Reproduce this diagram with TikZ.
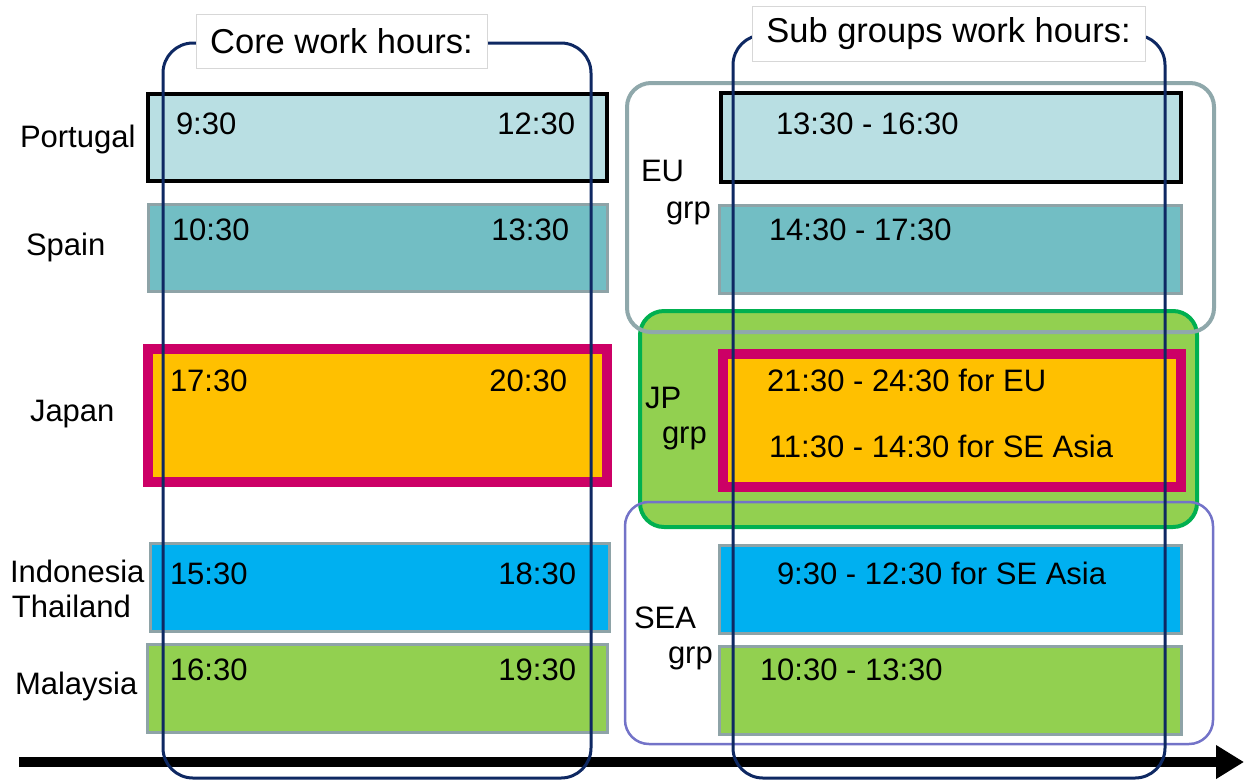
\documentclass[tikz,border=0pt]{standalone}
\usepackage{fontspec}
\setmainfont{Liberation Sans}
\usetikzlibrary{arrows.meta}
\definecolor{navy}{RGB}{14,40,98}
\definecolor{lteal}{RGB}{185,223,227}
\definecolor{teal}{RGB}{114,190,196}
\definecolor{jporange}{RGB}{255,192,0}
\definecolor{magent}{RGB}{204,0,102}
\definecolor{skyb}{RGB}{0,176,240}
\definecolor{lgreen}{RGB}{146,208,80}
\definecolor{dgreen}{RGB}{0,176,80}
\definecolor{grayb}{RGB}{142,163,167}
\definecolor{eub}{RGB}{143,168,171}
\definecolor{seab}{RGB}{115,115,200}
\definecolor{ttlb}{RGB}{215,215,215}
\begin{document}
\begin{tikzpicture}[x=1pt,y=-1pt,
  every node/.style={inner sep=0pt,outer sep=0pt},
  txt/.style={font=\fontsize{31}{36}\selectfont,anchor=base west},
  txtr/.style={font=\fontsize{31}{36}\selectfont,anchor=base east},
  ttl/.style={font=\fontsize{34.5}{40}\selectfont,fill=white,draw=ttlb,line width=0.8pt,anchor=north west},
  bar/.style={anchor=north west,draw=grayb,line width=3pt},
  blackbar/.style={anchor=north west,draw=black,line width=3.5pt},
  jpbar/.style={anchor=north west,draw=magent,line width=10pt,fill=jporange},
  bracket/.style={anchor=north west,draw=navy,line width=3pt,rounded corners=30pt},
  grp/.style={anchor=north west,rounded corners=24pt}]
\useasboundingbox (0,0) rectangle (1244,780);

% time axis
\coordinate (ax0) at (19,762);
\coordinate (ax1) at (1244,762);
\draw[line width=10pt,-{Triangle[length=28pt,width=32pt]}] (ax0) -- (ax1);

% left bars
\node[blackbar,fill=lteal,minimum width=459,minimum height=87] (pt) at (148,94) {};
\node[bar,fill=teal,minimum width=459,minimum height=87] (es) at (148,204) {};
\node[jpbar,minimum width=459,minimum height=133] (jp) at (148,349) {};
\node[bar,fill=skyb,minimum width=459,minimum height=88] (id) at (150,543) {};
\node[bar,fill=lgreen,minimum width=460,minimum height=88] (my) at (147,644) {};

% group frames
\node[grp,fill=lgreen,draw=dgreen,line width=4pt,minimum width=557,minimum height=216] (jpg) at (640,311) {};
\node[grp,draw=eub,line width=4pt,minimum width=587,minimum height=249] (eug) at (627,83) {};
\node[grp,draw=seab,line width=2.5pt,minimum width=588,minimum height=242] (seag) at (625,502) {};

% right bars
\node[blackbar,fill=lteal,minimum width=460,minimum height=89] (eu1) at (721,93) {};
\node[bar,fill=teal,minimum width=462,minimum height=88] (eu2) at (719,205) {};
\node[jpbar,minimum width=458,minimum height=133] (jpr) at (723,354) {};
\node[bar,fill=skyb,minimum width=462,minimum height=88] (sea1) at (719,545) {};
\node[bar,fill=lgreen,minimum width=462,minimum height=88] (sea2) at (719,646) {};

% brackets
\node[bracket,minimum width=428,minimum height=735] (core) at (163,43) {};
\node[bracket,minimum width=432,minimum height=743] (sub) at (733,35) {};

% titles
\node[ttl,minimum width=291,minimum height=54] (coret) at (196,14) {Core work hours:};
\node[ttl,minimum width=393,minimum height=55] (subt) at (752,6) {Sub groups work hours:};

% country labels
\node[txt] (lpt) at (20,147) {Portugal};
\node[txt] (les) at (26,255) {Spain};
\node[txt] (ljp) at (30,421) {Japan};
\node[txt] (lid) at (10,582) {Indonesia};
\node[txt] (lth) at (12,617) {Thailand};
\node[txt] (lmy) at (15,694) {Malaysia};

% core times
\node[txt] (t1a) at (176,134) {9:30};
\node[txtr] (t1b) at (575,134) {12:30};
\node[txt] (t2a) at (172,240) {10:30};
\node[txtr] (t2b) at (569,240) {13:30};
\node[txt] (t3a) at (170,391) {17:30};
\node[txtr] (t3b) at (567,391) {20:30};
\node[txt] (t4a) at (170,584) {15:30};
\node[txtr] (t4b) at (576,584) {18:30};
\node[txt] (t5a) at (170,680) {16:30};
\node[txtr] (t5b) at (576,680) {19:30};

% group labels
\node[txt] (leu) at (641,181) {EU};
\node[txt] (leug) at (666,218) {grp};
\node[txt] (ljpg1) at (645,408) {JP};
\node[txt] (ljpg2) at (662,443) {grp};
\node[txt] (lsea) at (634,628) {SEA};
\node[txt] (lseag) at (668,663) {grp};

% sub group times
\node[txt] (s1) at (776,134) {13:30 - 16:30};
\node[txt] (s2) at (769,240) {14:30 - 17:30};
\node[txt] (s3) at (767,391) {21:30 - 24:30 for EU};
\node[txt] (s4) at (769,457) {11:30 - 14:30 for SE Asia};
\node[txt] (s5) at (777,584) {9:30 - 12:30 for SE Asia};
\node[txt] (s6) at (760,680) {10:30 - 13:30};
\end{tikzpicture}
\end{document}
